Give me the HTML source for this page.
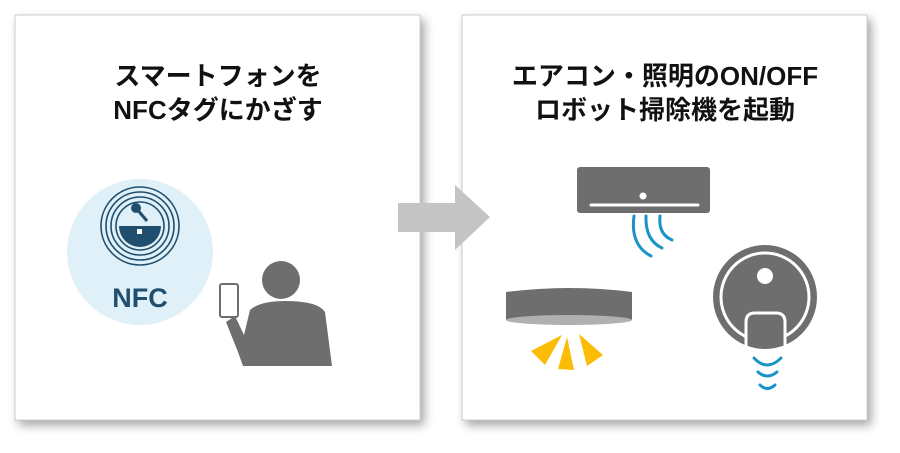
<!DOCTYPE html>
<html><head><meta charset="utf-8"><style>
html,body{margin:0;padding:0;background:#fff;width:900px;height:453px;overflow:hidden}
</style></head><body>
<svg width="900" height="453" viewBox="0 0 900 453" xmlns="http://www.w3.org/2000/svg">
<defs>
<filter id="sh" x="-10%" y="-10%" width="125%" height="125%"><feGaussianBlur in="SourceAlpha" stdDeviation="5"/><feOffset dx="4" dy="5"/><feComponentTransfer><feFuncA type="linear" slope="0.35"/></feComponentTransfer><feMerge><feMergeNode/><feMergeNode in="SourceGraphic"/></feMerge></filter>
</defs>
<rect x="15" y="15" width="405" height="405" fill="#fff" stroke="#ccc" stroke-width="1" filter="url(#sh)"/>
<rect x="462" y="15" width="405" height="405" fill="#fff" stroke="#ccc" stroke-width="1" filter="url(#sh)"/>
<g font-family="Liberation Sans, Noto Sans CJK JP, sans-serif" font-weight="bold" font-size="26" text-anchor="middle" fill="#111">
<text x="218" y="85">スマートフォンを</text>
<text x="218" y="119">NFCタグにかざす</text>
<text x="665" y="85">エアコン・照明のON/OFF</text>
<text x="665" y="119">ロボット掃除機を起動</text>
</g>
<!-- arrow -->
<polygon points="398,203 455,203 455,185 490,217 455,250 455,232 398,232" fill="#c4c4c4"/>
<!-- NFC -->
<circle cx="140" cy="252" r="73" fill="#dff0f8"/>
<g fill="none" stroke="#1f4e6e" stroke-width="1.6">
<circle cx="140" cy="226" r="39"/><circle cx="140" cy="226" r="34"/><circle cx="140" cy="226" r="29"/><circle cx="140" cy="226" r="24"/>
</g>
<path d="M119,226 A21,21 0 0 0 161,226 Z" fill="#1f4e6e"/>
<circle cx="136" cy="208" r="5" fill="#1f4e6e"/>
<path d="M136,208 L147,221" stroke="#1f4e6e" stroke-width="3"/>
<rect x="137" y="229" width="5" height="5" fill="#fff"/>
<text x="140" y="307" font-family="Liberation Sans, sans-serif" font-weight="bold" font-size="27" text-anchor="middle" fill="#1f4e6e">NFC</text>
<!-- person -->
<circle cx="281" cy="280" r="19" fill="#6e6e6e"/>
<path d="M250,310 Q260,301 285,301 Q318,301 325,312 L332,366 L243,366 L238,352 L226,322 L235,316 L244,335 Z" fill="#6e6e6e"/>
<rect x="220" y="284" width="18" height="33" rx="2" fill="#fff" stroke="#6e6e6e" stroke-width="2"/>
<!-- AC -->
<rect x="577" y="167" width="133" height="46" rx="3" fill="#6e6e6e"/>
<circle cx="643" cy="196" r="3.5" fill="#fff"/>
<line x1="591" y1="205" x2="698" y2="205" stroke="#fff" stroke-width="3" stroke-linecap="round"/>
<g fill="none" stroke="#1a93c8" stroke-width="3" stroke-linecap="round">
<path d="M634,216 Q630,245 651,256"/><path d="M646,216 Q645,240 662,248"/><path d="M660,216 Q658,234 672,240"/>
</g>
<!-- light -->
<path d="M506,292 Q569,284 632,292 L632,320 Q569,328 506,320 Z" fill="#6e6e6e"/>
<ellipse cx="569" cy="320" rx="63" ry="5" fill="#b0b0b0"/>
<g fill="#fbbc05">
<polygon points="531,351 562,335 545,365"/><polygon points="567,337 558,369 574,370"/><polygon points="579,334 603,355 587,366"/>
</g>
<!-- robot -->
<circle cx="765" cy="297" r="52" fill="#6e6e6e"/>
<circle cx="765" cy="297" r="44" fill="none" stroke="#fff" stroke-width="3"/>
<circle cx="765" cy="276" r="8" fill="#fff"/>
<path d="M746,346 L746,322 Q746,313 755,313 L776,313 Q785,313 785,322 L785,346" fill="#6e6e6e" stroke="#fff" stroke-width="3"/>
<g fill="none" stroke="#1a93c8" stroke-width="3" stroke-linecap="round">
<path d="M754,358 Q767,372 781,358"/><path d="M758,372 Q767,380 777,372"/><path d="M760,385 Q767,392 775,385"/>
</g>
</svg>
</body></html>
